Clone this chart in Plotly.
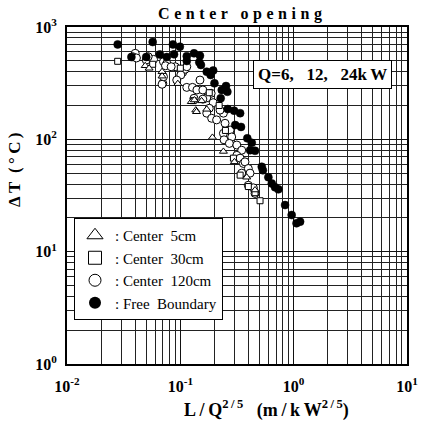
import plotly.graph_objects as go

# ---------------- data ----------------
free_x = [0.028, 0.057, 0.086, 0.099, 0.037, 0.050, 0.066, 0.076, 0.088, 0.114,
          0.132, 0.149, 0.114, 0.147, 0.152, 0.171, 0.185, 0.195, 0.200, 0.232,
          0.253, 0.260, 0.227, 0.262, 0.298, 0.337, 0.305, 0.343, 0.390, 0.427,
          0.413, 0.456, 0.523, 0.535, 0.598, 0.641, 0.685, 0.733, 0.840, 0.960,
          1.060, 1.140]
free_y = [700, 735, 700, 668, 540, 540, 570, 540, 571, 550,
          583, 555, 498, 485, 459, 400, 374, 410, 315, 275,
          298, 265, 232, 186, 180, 171, 134, 129, 102, 93,
          80, 79, 57, 53, 46, 40.5, 37.4, 35.9, 26, 21.2,
          17.9, 18.5]

c120_x = [0.040, 0.038, 0.041, 0.050, 0.058, 0.071, 0.076, 0.090, 0.105, 0.110,
          0.114, 0.101, 0.093, 0.070, 0.114, 0.128, 0.140, 0.158, 0.149, 0.187,
          0.171, 0.132, 0.158, 0.195, 0.180, 0.171, 0.189, 0.209, 0.240, 0.224,
          0.248, 0.275, 0.240, 0.284, 0.243, 0.271, 0.315, 0.348, 0.315, 0.337,
          0.360, 0.372, 0.398, 0.348, 0.398, 0.441, 0.456, 0.412, 0.052, 0.074,
          0.083, 0.071, 0.069]
c120_y = [583, 544, 530, 508, 515, 491, 475, 443, 395, 420,
          443, 374, 337, 315, 290, 290, 275, 275, 337, 257,
          234, 232, 228, 212, 189, 171, 154, 149, 171, 182,
          139, 121, 113, 105, 99, 92, 89, 80, 72, 68,
          61, 63, 55, 50, 39, 37, 33, 50, 544, 452,
          443, 361, 309]

c30_x = [0.028, 0.057, 0.100, 0.130, 0.180, 0.220, 0.250, 0.294, 0.337, 0.398,
         0.456, 0.505]
c30_y = [495, 466, 430, 221, 260, 200, 120, 68, 48, 38,
         33.5, 28.4]

c5_x = [0.049, 0.053, 0.069, 0.069, 0.095, 0.125, 0.154, 0.133, 0.137, 0.139,
        0.171, 0.192, 0.240, 0.300, 0.385, 0.456]
c5_y = [452, 429, 400, 365, 313, 216, 220, 224, 182, 176,
        185, 104, 78, 63, 46, 35.4]

x_tickvals = [0.01, 0.1, 1, 10]
x_ticktext = ["10<sup>-2</sup>", "10<sup>-1</sup>", "10<sup>0</sup>", "10<sup>1</sup>"]
y_tickvals = [1, 10, 100, 1000]
y_ticktext = ["10<sup>0</sup>", "10<sup>1</sup>", "10<sup>2</sup>", "10<sup>3</sup>"]

legend_names = [":\u00a0Center\u00a0\u00a05cm", ":\u00a0Center\u00a0\u00a030cm",
                ":\u00a0Center\u00a0\u00a0120cm", ":\u00a0Free\u00a0\u00a0Boundary"]

# ---------------------------------------------------------------
serif = "Liberation Serif"
T = "\u2009"   # thin space used for letter spacing
TT = "\u2009\u200a"
minor_x = [m * 10.0 ** e for e in (-2, -1, 0) for m in range(2, 10)]
minor_y = [m * 10.0 ** e for e in (0, 1, 2) for m in range(2, 10)]

fig = go.Figure()

def open_marker(sym, size):
    return dict(symbol=sym, size=size, color="white", line=dict(color="black", width=1))

series = [
    (c5_x, c5_y, open_marker("triangle-up", 7)),
    (c30_x, c30_y, open_marker("square", 6)),
    (c120_x, c120_y, open_marker("circle", 8)),
    (free_x, free_y, dict(symbol="circle", size=8, color="black", line=dict(color="black", width=0.5))),
]
for idx in (2, 1, 0, 3):
    xs, ys, mk = series[idx]
    fig.add_trace(go.Scatter(x=xs, y=ys, mode="markers", marker=mk,
                             showlegend=False, hoverinfo="skip"))

legend_markers = [
    dict(symbol="triangle-up-open", size=14, color="black", line=dict(color="black", width=1)),
    dict(symbol="square-open", size=13, color="black", line=dict(color="black", width=1)),
    dict(symbol="circle-open", size=12, color="black", line=dict(color="black", width=1)),
    dict(symbol="circle", size=12, color="black"),
]
for name, mk in zip(legend_names, legend_markers):
    fig.add_trace(go.Scatter(x=[None], y=[None], mode="markers", marker=mk,
                             name=name, legendgroup=name, showlegend=True))

axis_common = dict(
    type="log", automargin=False,
    showline=True, linecolor="black", linewidth=2, mirror=True,
    showgrid=True, gridcolor="#111", gridwidth=1,
    zeroline=False, ticks="",
    tickfont=dict(family=serif, size=16, color="black", weight="bold"),
    tickmode="array", ticklabeloverflow="allow",
)
fig.update_xaxes(**axis_common, range=[-2, 1], tickvals=x_tickvals, ticktext=x_ticktext,
                 ticklabelstandoff=7,
                 minor=dict(tickmode="array", tickvals=minor_x, showgrid=True,
                            gridcolor="#222", gridwidth=1, ticks=""))
fig.update_yaxes(**axis_common, range=[0, 3], tickvals=y_tickvals, ticktext=y_ticktext,
                 ticklabelstandoff=5,
                 minor=dict(tickmode="array", tickvals=minor_y, showgrid=True,
                            gridcolor="#222", gridwidth=1, ticks=""))

title_text = (TT.join("Center") + TT + "\u2002" + TT.join("opening"))
xtitle = ("L" + T + "/" + T + "Q<sup>2" + T + "/" + T + "5</sup>\u00a0\u00a0\u00a0(m" + T + "/" + T
          + "k" + T + "W<sup>2" + T + "/" + T + "5</sup>)")
ytitle = "\u0394" + T + "T\u00a0\u00a0(" + T + "\u00b0" + T + "C" + T + ")"

fig.update_layout(
    width=421, height=435,
    margin=dict(l=67, r=14, t=27, b=71),
    paper_bgcolor="white", plot_bgcolor="white",
    font=dict(family=serif, color="black"),
    title=dict(text=title_text, automargin=False,
               x=(240 - 0) / 421, xanchor="center", xref="container",
               y=1 - 13 / 435, yanchor="middle", yref="container",
               font=dict(family=serif, size=16, color="black", weight="bold")),
    legend=dict(x=(74 - 67) / 340, y=1 - (218 - 27) / 337, xanchor="left", yanchor="top",
                bgcolor="white", bordercolor="black", borderwidth=1,
                font=dict(family=serif, size=15, color="black"),
                tracegroupgap=0, itemwidth=30),
    showlegend=True,
    annotations=[
        dict(text="Q=6,\u00a0\u00a0\u00a012,\u00a0\u00a0\u00a024k" + T + "W", xref="paper", yref="paper",
             x=(322 - 67) / 340, y=1 - (74 - 27) / 337, xanchor="center", yanchor="middle",
             showarrow=False, bgcolor="white", bordercolor="black", borderwidth=1,
             borderpad=4, font=dict(family=serif, size=17, color="black", weight="bold")),
        dict(text=xtitle, xref="paper", yref="paper",
             x=(266 - 67) / 340, y=1 - (409 - 27) / 337, xanchor="center", yanchor="middle",
             showarrow=False, font=dict(family=serif, size=18, color="black", weight="bold")),
        dict(text=ytitle, xref="paper", yref="paper",
             x=(14 - 67) / 340, y=1 - (170 - 27) / 337, xanchor="center", yanchor="middle",
             textangle=-90, showarrow=False,
             font=dict(family=serif, size=17, color="black", weight="bold")),
    ],
)

fig.write_html("out.html", config={"displayModeBar": False},
               post_script="document.body.style.margin='0';document.body.style.padding='0';")
